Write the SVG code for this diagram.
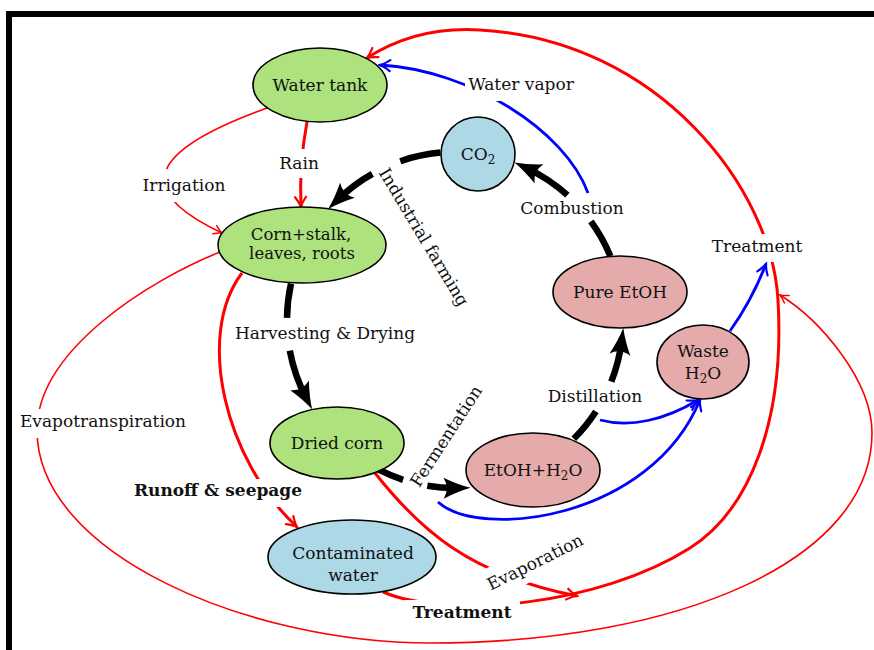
<svg xmlns="http://www.w3.org/2000/svg" width="874" height="650" viewBox="0 0 874 650">
<defs>
<style>
text{font-family:"DejaVu Serif","Liberation Serif",serif;font-size:17px;fill:#111;text-anchor:middle}
.b{font-weight:bold}
.sm{font-size:16.5px}
.node{stroke:#000;stroke-width:1.6}
.g{fill:#ade27d}.lb{fill:#add8e6}.pk{fill:#e5aaaa}
.blk{fill:none;stroke:#000;stroke-width:6.5}
.rt{fill:none;stroke:#f00;stroke-width:3}
.rn{fill:none;stroke:#f00;stroke-width:1.6}
.bl{fill:none;stroke:#00f;stroke-width:2.8}
.bg{fill:#fff}
.sub{font-size:12px}
</style>
<marker id="mB" viewBox="-16 -13 32 26" markerWidth="32" markerHeight="26" refX="0" refY="0" markerUnits="userSpaceOnUse" orient="auto"><path d="M13,0 Q0,-3.5 -14,-10.5 Q-7.5,0 -14,10.5 Q0,3.5 13,0Z" fill="#000"/></marker>
<marker id="mR" viewBox="-12 -8 14 16" markerWidth="14" markerHeight="16" refX="0" refY="0" markerUnits="userSpaceOnUse" orient="auto"><path d="M-10,-5.5 Q-4,-1.2 0,0 Q-4,1.2 -10,5.5" fill="none" stroke="#f00" stroke-width="2.2" stroke-linecap="round"/></marker>
<marker id="mRn" viewBox="-10 -6 12 12" markerWidth="12" markerHeight="12" refX="0" refY="0" markerUnits="userSpaceOnUse" orient="auto"><path d="M-8,-4.5 Q-3,-1 0,0 Q-3,1 -8,4.5" fill="none" stroke="#f00" stroke-width="1.5" stroke-linecap="round"/></marker>
<marker id="mBl" viewBox="-12 -8 14 16" markerWidth="14" markerHeight="16" refX="0" refY="0" markerUnits="userSpaceOnUse" orient="auto"><path d="M-10,-5.5 Q-4,-1.2 0,0 Q-4,1.2 -10,5.5" fill="none" stroke="#00f" stroke-width="2.2" stroke-linecap="round"/></marker>
</defs>
<rect x="0" y="0" width="874" height="650" fill="#fff"/>
<rect x="9" y="14" width="900" height="700" fill="none" stroke="#000" stroke-width="6"/>

<g id="connectors">
<path class="blk" d="M440.4,152.6 A168,168 0 0 0 400.3,161.2"/>
<path class="blk" d="M372.3,173.8 A168,168 0 0 0 337.4,200.0" marker-end="url(#mB)"/>
<path class="blk" d="M291.0,283.6 A168,168 0 0 0 287.0,317.9"/>
<path class="blk" d="M289.8,350.6 A168,168 0 0 0 306.1,397.8" marker-end="url(#mB)"/>
<path class="blk" d="M378.7,469.7 A168,168 0 0 0 403.1,479.8"/>
<path class="blk" d="M427.3,485.7 A168,168 0 0 0 457.6,488.0" marker-end="url(#mB)"/>
<path class="blk" d="M573.8,438.8 A168,168 0 0 0 595.9,411.5"/>
<path class="blk" d="M611.3,381.6 A168,168 0 0 0 621.7,340.8" marker-end="url(#mB)"/>
<path class="blk" d="M610.4,256.2 A168,168 0 0 0 590.9,221.3"/>
<path class="blk" d="M567.4,195.2 A168,168 0 0 0 526.3,167.9" marker-end="url(#mB)"/>

<path class="rt" d="M307,122 Q299,165 301,207" marker-end="url(#mR)"/>
<path class="rt" d="M242,273 C195,335 225,460 297,527" marker-end="url(#mR)"/>
<path class="rt" d="M375,473 C420,530 470,575 577,596" marker-end="url(#mR)"/>
<path class="rt" d="M383,592 C450,620 600,605 690,548 C750,510 785,420 778,300 C772,190 660,40 480,30 C430,27 395,40 367,58" marker-end="url(#mR)"/>

<path class="rn" d="M267,108 C150,150 130,190 222,233" marker-end="url(#mRn)"/>
<path class="rn" d="M220,252 C150,280 37,350 37,430 C37,555 250,643 430,643 C680,643 872,560 872,433 C872,380 820,320 780,295" marker-end="url(#mRn)"/>

<path class="bl" d="M588,193 C565,130 470,70 380,65" marker-end="url(#mBl)"/>
<path class="bl" d="M600,420 C630,428 665,420 698,400" marker-end="url(#mBl)"/>
<path class="bl" d="M438,502 C480,540 650,520 700,400" marker-end="url(#mBl)"/>
<path class="bl" d="M730,331 Q752,300 766,264" marker-end="url(#mBl)"/>
</g>

<g id="labels">
<rect class="bg" x="465" y="72" width="113" height="29"/><text x="521" y="90">Water vapor</text>
<rect class="bg" x="277" y="149" width="45" height="29"/><text x="299" y="169">Rain</text>
<rect class="bg" x="140" y="169" width="88" height="33"/><text x="184" y="191">Irrigation</text>
<rect class="bg" x="711" y="234" width="94" height="28"/><text x="757" y="252">Treatment</text>
<rect class="bg" x="17" y="409" width="173" height="29"/><text x="103" y="427">Evapotranspiration</text>
<rect class="bg" x="128" y="479" width="182" height="28"/><text class="b" x="218" y="496">Runoff &amp; seepage</text>
<rect class="bg" x="404" y="600" width="116" height="25"/><text class="b" x="462" y="618">Treatment</text>
<g transform="translate(535,562) rotate(-26.5)"><rect class="bg" x="-56" y="-16" width="112" height="32"/><text x="0" y="6">Evaporation</text></g>
<text x="572" y="214">Combustion</text>
<text x="325" y="339">Harvesting &amp; Drying</text>
<text x="595" y="402">Distillation</text>
<g transform="translate(424,237) rotate(59)"><text x="0" y="6">Industrial farming</text></g>
<g transform="translate(446,436) rotate(-57)"><text x="0" y="6">Fermentation</text></g>
</g>

<g id="water-tank"><ellipse class="node g" cx="320" cy="85" rx="67" ry="37"/><text x="320" y="91">Water tank</text></g>
<g id="corn"><ellipse class="node g" cx="302" cy="245" rx="84" ry="38"/><text class="sm" x="301" y="240">Corn+stalk,</text><text class="sm" x="302" y="259">leaves, roots</text></g>
<g id="co2"><circle class="node lb" cx="478" cy="154" r="37"/><text x="478" y="160">CO<tspan class="sub" dy="4">2</tspan></text></g>
<g id="pure-etoh"><ellipse class="node pk" cx="620" cy="292" rx="67" ry="36"/><text x="620" y="298">Pure EtOH</text></g>
<g id="waste-h2o"><ellipse class="node pk" cx="703" cy="362" rx="46" ry="37"/><text x="703" y="357">Waste</text><text x="703" y="379">H<tspan class="sub" dy="4">2</tspan><tspan dy="-4">O</tspan></text></g>
<g id="dried-corn"><ellipse class="node g" cx="337" cy="443" rx="67" ry="36"/><text x="337" y="449">Dried corn</text></g>
<g id="etoh-h2o"><ellipse class="node pk" cx="533" cy="470" rx="67" ry="37"/><text x="533" y="476">EtOH+H<tspan class="sub" dy="4">2</tspan><tspan dy="-4">O</tspan></text></g>
<g id="contaminated-water"><ellipse class="node lb" cx="352" cy="557" rx="84" ry="37"/><text x="353" y="559">Contaminated</text><text x="353" y="581">water</text></g>
</svg>
